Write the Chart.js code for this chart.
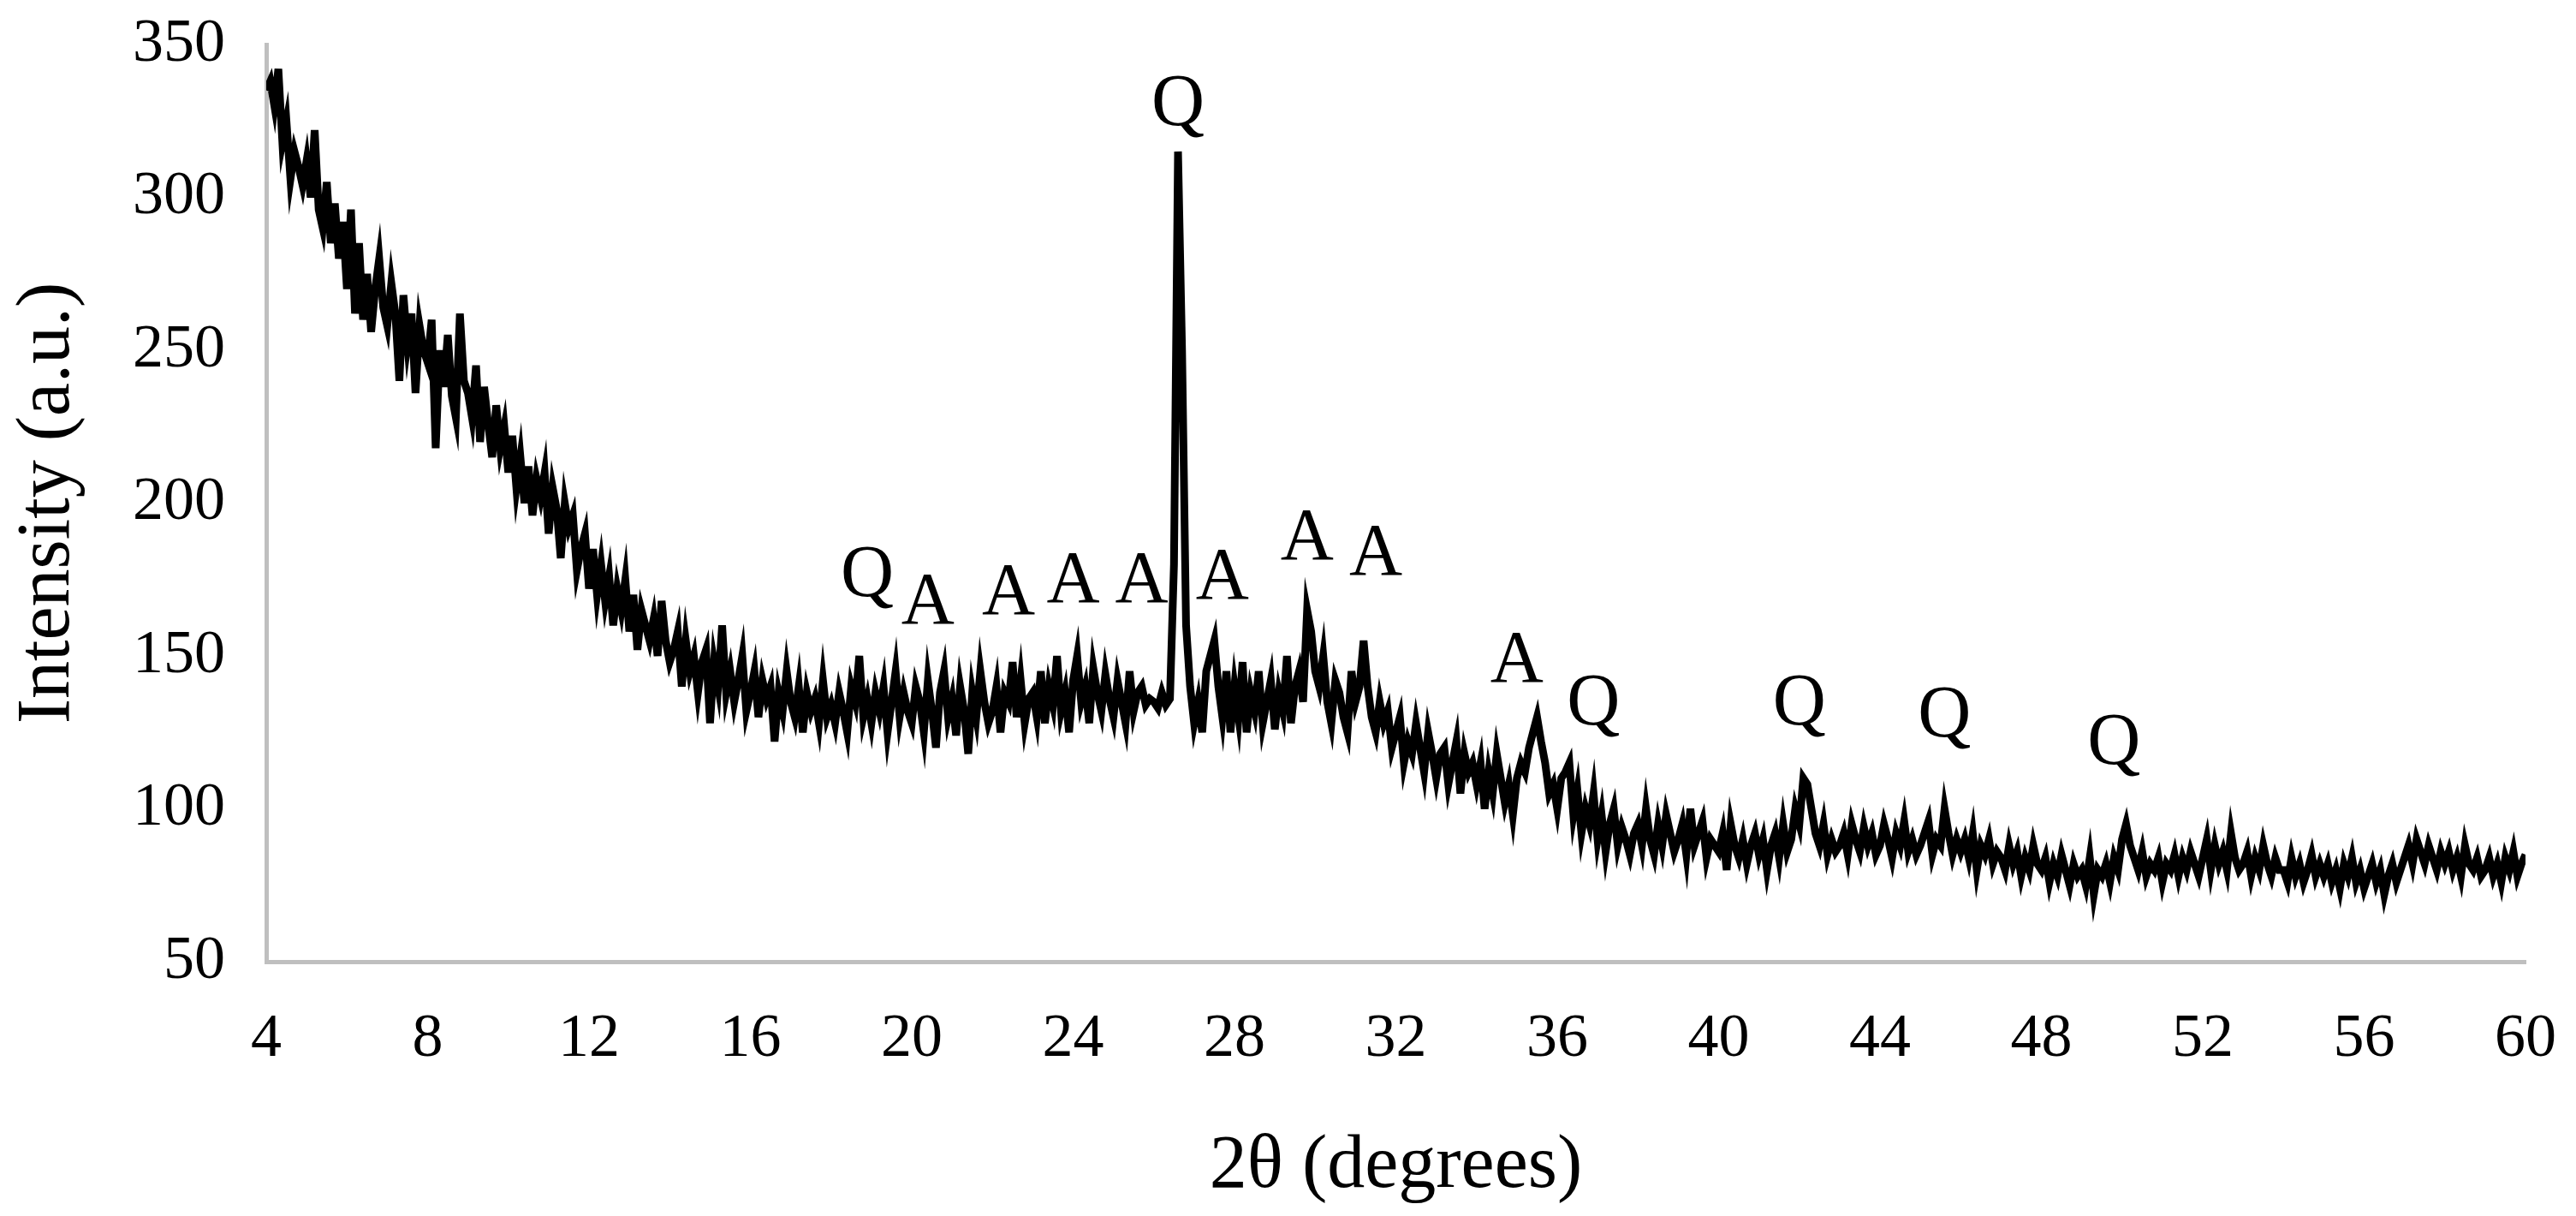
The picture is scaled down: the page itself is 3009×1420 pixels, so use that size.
<!DOCTYPE html>
<html><head><meta charset="utf-8">
<script src="https://cdn.jsdelivr.net/npm/chart.js@4"></script>
<style>html,body{margin:0;padding:0;background:#fff}#wrap{width:3009px;height:1420px}</style>
</head><body><div id="wrap"><canvas id="c" width="3009" height="1420"></canvas></div>
<script>
const xStart = 4, xStep = 0.1;
const intensity = [
335,338,330,342,318,325,306,315,310,304,
312,300,322,296,290,305,285,298,280,292,
270,296,262,285,260,275,256,270,280,264,
258,272,262,240,268,252,262,236,258,250,
246,260,218,250,238,255,235,228,262,240,
236,228,245,220,238,226,215,232,218,225,
210,222,205,215,200,212,196,208,202,210,
190,205,198,182,200,192,196,178,185,190,
172,185,170,180,168,176,160,172,165,175,
158,170,152,165,160,155,162,150,168,155,
148,152,158,140,155,145,150,138,148,152,
128,148,140,160,138,145,135,142,150,132,
138,145,130,142,136,140,122,138,132,145,
135,130,140,125,138,132,136,128,142,130,
134,128,138,132,125,140,135,150,130,136,
128,138,132,140,125,135,145,130,138,132,
128,140,135,125,142,132,120,138,145,130,
136,124,140,132,118,138,130,145,135,128,
132,140,125,138,135,148,130,142,128,136,
138,130,145,128,140,134,150,132,138,125,
142,150,135,140,128,146,138,132,144,136,
130,142,135,128,145,132,138,140,134,136,
135,133,138,134,136,180,315,250,160,140,
128,135,125,145,150,155,140,130,145,125,
140,130,148,125,138,132,145,128,135,142,
126,138,132,150,128,140,145,135,165,158,
145,140,150,135,128,142,138,130,125,145,
135,140,155,140,130,125,135,128,132,120,
125,130,115,122,118,128,120,112,125,118,
110,118,120,108,115,122,105,118,112,115,
108,115,100,112,105,118,110,102,108,98,
110,115,112,120,125,130,122,115,105,108,
100,110,112,115,98,106,92,100,95,105,
90,98,86,95,100,88,94,90,85,92,
95,88,100,90,85,95,88,98,92,86,
90,95,85,100,88,92,96,84,90,88,
86,92,80,95,88,84,90,82,88,92,
85,90,80,88,92,84,95,86,90,100,
95,110,108,100,92,88,95,85,90,86,
88,92,85,95,90,86,94,88,92,85,
88,95,90,84,92,88,96,86,90,85,
88,92,96,85,90,88,100,92,85,90,
86,90,84,92,80,88,85,90,82,86,
84,80,88,82,86,78,84,80,88,82,
80,84,76,82,78,85,80,75,82,78,
80,75,84,72,80,78,82,76,84,80,
90,95,88,84,80,86,78,82,80,84,
76,82,80,85,78,84,80,86,82,78,
84,90,80,88,82,86,80,92,84,80,
82,86,78,84,80,88,82,78,84,80,
80,76,84,78,82,76,80,85,78,82,
78,82,76,80,74,82,78,84,76,80,
74,78,82,76,80,72,78,82,76,80,
84,88,82,90,86,82,88,84,80,86,
82,86,80,84,78,88,82,80,84,78,
80,84,78,82,76,84,80,86,78,82,
85];
const peakLabels = ['Q','A','A','A','A','Q','A','A','A','A','Q','Q','Q','Q'];
const peakX = [18.9,20.4,22.4,24.0,25.7,26.6,27.7,29.8,31.5,35.0,36.9,42.0,45.6,49.8];
const peakY = [176,167,170,174,174,330,175,188,183,148,134,134,130,121];
const yTicks = [50,100,150,200,250,300,350];

const pts = intensity.map((v,i)=>({x:+(xStart+i*xStep).toFixed(2), y:v}));
const FONT = "'Liberation Serif','DejaVu Serif',serif";

const labelPlugin = {
  id:'peakLabels',
  afterDatasetsDraw(chart){
    const {ctx, scales:{x,y}} = chart;
    ctx.save();
    ctx.fillStyle='#000';
    ctx.font = "86px "+FONT;
    ctx.textAlign='center'; ctx.textBaseline='middle';
    peakLabels.forEach((t,i)=>ctx.fillText(t, x.getPixelForValue(peakX[i]), y.getPixelForValue(peakY[i])));
    ctx.restore();
  }
};

new Chart(document.getElementById('c'), {
  type:'line',
  data:{datasets:[{data:pts, borderColor:'#000', borderWidth:9, pointRadius:0, tension:0, fill:false}]},
  options:{
    responsive:false, animation:false,
    layout:{padding:{top:52,right:59,left:0,bottom:0}},
    plugins:{legend:{display:false}, tooltip:{enabled:false}},
    scales:{
      x:{type:'linear', min:4, max:60,
        grid:{display:false}, border:{display:true,color:'#bfbfbf',width:5},
        ticks:{stepSize:4, color:'#000', font:{family:FONT,size:72}, padding:40, maxRotation:0},
        title:{display:true, text:'2θ (degrees)', color:'#000', font:{family:FONT,size:88}, padding:{top:40}},
        afterFit(s){s.height=297; s.paddingLeft=0; s.paddingRight=0;}
      },
      y:{min:50, max:350,
        afterBuildTicks(s){s.ticks=yTicks.map(v=>({value:v}));},
        grid:{display:false}, border:{display:true,color:'#bfbfbf',width:5},
        ticks:{color:'#000', font:{family:FONT,size:72}, padding:40},
        title:{display:true, text:'Intensity (a.u.)', color:'#000', font:{family:FONT,size:88}, padding:{bottom:10}},
        afterFit(s){s.width=311; s.paddingTop=0; s.paddingBottom=0;}
      }
    }
  },
  plugins:[labelPlugin]
});
</script></body></html>
